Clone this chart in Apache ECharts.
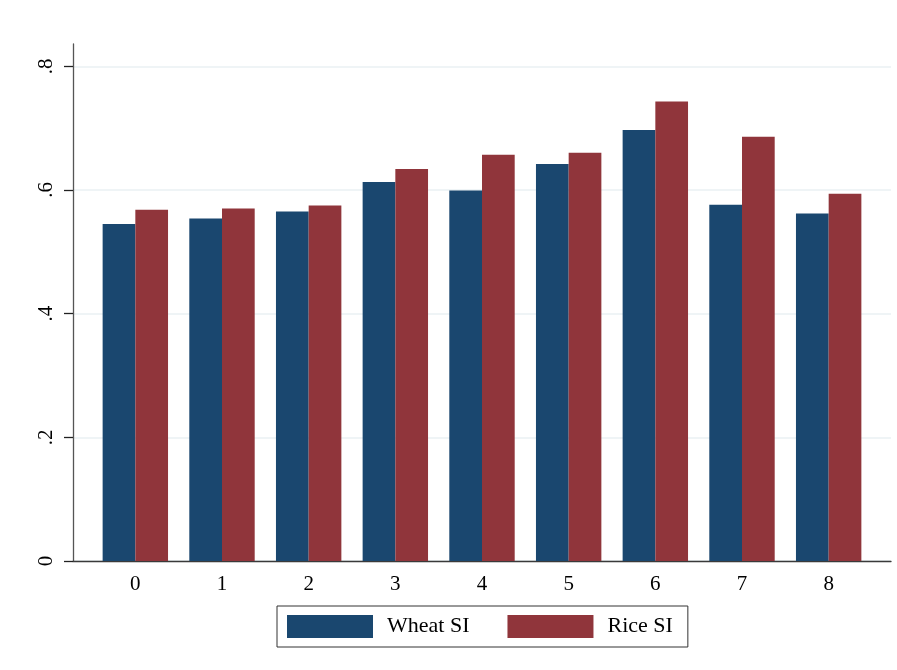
<!DOCTYPE html>
<html>
<head>
<meta charset="utf-8">
<style>
  html, body { margin: 0; padding: 0; background: #ffffff; }
  #chart { width: 897px; height: 670px; }
</style>
<script src="https://cdn.jsdelivr.net/npm/echarts@6/dist/echarts.min.js"></script>
</head>
<body>
<div id="chart"></div>
<script>
// Category labels along the x axis
const categories = ['0', '1', '2', '3', '4', '5', '6', '7', '8'];
// Mean similarity index by group
const wheatSI = [0.545, 0.554, 0.565, 0.613, 0.599, 0.642, 0.697, 0.576, 0.562];
const riceSI  = [0.568, 0.570, 0.575, 0.634, 0.657, 0.660, 0.743, 0.686, 0.594];
// Y tick values and their printed labels
const yTicks = [0, 0.2, 0.4, 0.6, 0.8];
const yTickLabels = ['0', '.2', '.4', '.6', '.8'];

const FONT = '"Liberation Serif", "Times New Roman", serif';
const NAVY = '#1a476f';
const MAROON = '#90353b';
const Y_MAX = 0.836;

const chart = echarts.init(document.getElementById('chart'));

chart.setOption({
  backgroundColor: '#ffffff',
  animation: false,
  grid: [
    // outer plot area: carries the y axis, gridlines and the x baseline
    { left: 73, right: 6, top: 44, bottom: 109, containLabel: false },
    // inner band area: holds the bar groups and category labels
    { left: 92, right: 25, top: 44, bottom: 109, containLabel: false }
  ],
  xAxis: [
    {
      gridIndex: 0, type: 'value', min: 0, max: 1,
      axisLine: { show: true, lineStyle: { color: '#3a3a3a', width: 1.3 } },
      axisTick: { show: false }, axisLabel: { show: false }, splitLine: { show: false }
    },
    {
      gridIndex: 1, type: 'category', data: categories,
      axisLine: { show: false }, axisTick: { show: false }, splitLine: { show: false },
      axisLabel: { color: '#000', fontFamily: FONT, fontSize: 21, margin: 13 }
    }
  ],
  yAxis: [
    {
      gridIndex: 0, type: 'value', min: 0, max: Y_MAX,
      axisLine: { show: true, lineStyle: { color: '#555', width: 1.3 } },
      axisTick: {
        show: true, length: 9, inside: false,
        lineStyle: { color: '#222', width: 1.3 },
        customValues: yTicks
      },
      axisLabel: {
        color: '#000', fontFamily: FONT, fontSize: 21, rotate: 90, margin: 16,
        customValues: yTicks,
        formatter: v => {
          const i = yTicks.findIndex(t => Math.abs(t - v) < 1e-6);
          return i >= 0 ? yTickLabels[i] : '';
        }
      },
      splitLine: { show: true, lineStyle: { color: '#eaf0f3', width: 1.5 } },
      interval: 0.2
    },
    {
      gridIndex: 1, type: 'value', min: 0, max: Y_MAX,
      axisLine: { show: false }, axisTick: { show: false },
      axisLabel: { show: false }, splitLine: { show: false }
    }
  ],
  legend: {
    left: 277, top: 606,
    padding: [9, 15, 9, 10],
    borderColor: '#333', borderWidth: 1,
    itemWidth: 86, itemHeight: 23, itemGap: 38,
    icon: 'rect',
    textStyle: { color: '#000', fontFamily: FONT, fontSize: 22, padding: [0, 0, 0, 9] },
    data: ['Wheat SI', 'Rice SI']
  },
  series: [
    {
      name: 'Wheat SI', type: 'bar', xAxisIndex: 1, yAxisIndex: 1,
      data: wheatSI, barWidth: 32.7, barGap: '0%',
      itemStyle: { color: NAVY }
    },
    {
      name: 'Rice SI', type: 'bar', xAxisIndex: 1, yAxisIndex: 1,
      data: riceSI, barWidth: 32.7, barGap: '0%',
      itemStyle: { color: MAROON }
    }
  ]
});
</script>
</body>
</html>
